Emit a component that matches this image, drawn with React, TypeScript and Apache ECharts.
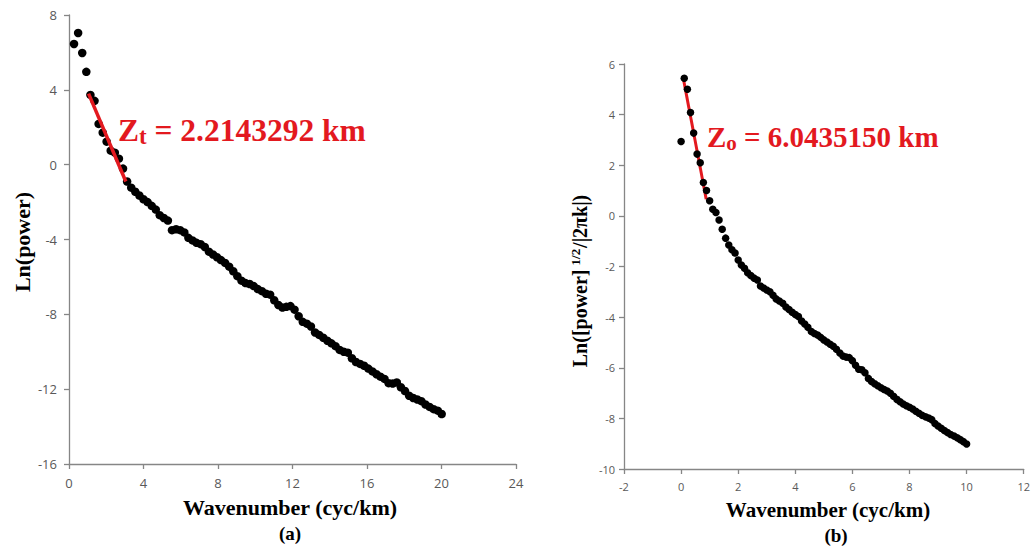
import React, { useEffect, useRef } from "react";
import * as echarts from "echarts";

// Panel (a): Ln(power) vs wavenumber
const xA = [0.27,0.49,0.71,0.93,1.15,1.37,1.59,1.81,2.02,2.24,2.46,2.68,2.90,3.12,3.34,3.56,3.78,4.00,4.22,4.44,4.66,4.87,5.09,5.31,5.53,5.75,5.97,6.19,6.41,6.63,6.85,7.07,7.29,7.51,7.73,7.95,8.16,8.38,8.60,8.82,9.04,9.26,9.48,9.70,9.92,10.14,10.36,10.58,10.80,11.02,11.24,11.46,11.67,11.89,12.11,12.33,12.55,12.77,12.99,13.21,13.43,13.65,13.87,14.09,14.31,14.53,14.75,14.97,15.19,15.41,15.63,15.85,16.07,16.29,16.51,16.72,16.94,17.16,17.38,17.60,17.82,18.04,18.26,18.48,18.70,18.92,19.14,19.36,19.58,19.80,20.01];
const yA = [6.45,7.04,5.97,4.96,3.73,3.41,2.18,1.71,1.23,0.75,0.64,0.32,-0.21,-0.9,-1.23,-1.45,-1.65,-1.85,-2.0,-2.2,-2.4,-2.7,-2.85,-2.99,-3.5,-3.45,-3.5,-3.62,-3.91,-4.05,-4.18,-4.25,-4.4,-4.65,-4.8,-4.95,-5.1,-5.25,-5.45,-5.7,-5.96,-6.2,-6.33,-6.38,-6.49,-6.65,-6.76,-6.9,-6.95,-7.25,-7.5,-7.64,-7.6,-7.56,-7.75,-8.1,-8.4,-8.5,-8.65,-8.97,-9.1,-9.25,-9.41,-9.55,-9.7,-9.9,-10.0,-10.05,-10.35,-10.55,-10.65,-10.75,-10.9,-11.05,-11.2,-11.33,-11.45,-11.68,-11.7,-11.64,-11.9,-12.1,-12.35,-12.47,-12.55,-12.64,-12.82,-12.95,-13.07,-13.15,-13.33];
const fitA = [[1.05, 3.8], [3.05, -0.9]];

// Panel (b): Ln([power]^1/2/|2πk|) vs wavenumber
const xB = [0,0.11,0.22,0.33,0.44,0.56,0.67,0.78,0.89,1.00,1.11,1.22,1.33,1.44,1.56,1.67,1.78,1.89,2.00,2.11,2.22,2.33,2.44,2.56,2.67,2.78,2.89,3.00,3.11,3.22,3.33,3.44,3.56,3.67,3.78,3.89,4.00,4.11,4.22,4.33,4.44,4.56,4.67,4.78,4.89,5.00,5.11,5.22,5.33,5.44,5.56,5.67,5.78,5.89,6.00,6.11,6.22,6.33,6.44,6.56,6.67,6.78,6.89,7.00,7.11,7.22,7.33,7.44,7.56,7.67,7.78,7.89,8.00,8.11,8.22,8.33,8.44,8.56,8.67,8.78,8.89,9.00,9.11,9.22,9.33,9.44,9.56,9.67,9.78,9.89,10.00];
const yB = [2.94,5.44,5.0,4.08,3.27,2.44,2.1,1.32,1.0,0.6,0.26,0.13,-0.16,-0.53,-0.88,-1.15,-1.34,-1.47,-1.74,-1.94,-2.07,-2.25,-2.36,-2.46,-2.53,-2.77,-2.85,-2.93,-3.0,-3.14,-3.28,-3.36,-3.45,-3.6,-3.7,-3.81,-3.9,-3.98,-4.15,-4.27,-4.4,-4.57,-4.65,-4.71,-4.8,-4.9,-4.98,-5.07,-5.15,-5.27,-5.42,-5.54,-5.58,-5.6,-5.72,-5.9,-6.06,-6.08,-6.2,-6.42,-6.54,-6.63,-6.71,-6.79,-6.86,-6.92,-7.01,-7.13,-7.25,-7.34,-7.43,-7.5,-7.56,-7.63,-7.72,-7.8,-7.88,-7.94,-7.99,-8.05,-8.2,-8.3,-8.39,-8.48,-8.56,-8.64,-8.7,-8.77,-8.84,-8.92,-9.01];
const fitB = [[0.07, 5.48], [0.88, 0.66]];

const zipXY = (xs: number[], ys: number[]) => {
  const n = Math.min(xs.length, ys.length);
  const out: number[][] = [];
  for (let i = 0; i < n; i++) out.push([xs[i], ys[i]]);
  return out;
};

const RED = "#e3191f";
const AXIS = "#868686";
const LABEL = "#595959";
const SERIF = "'Liberation Serif', 'Times New Roman', serif";
const SANS = "'Open Sans', 'Noto Sans', sans-serif";

export default function App() {
  const ref = useRef<HTMLDivElement>(null);
  useEffect(() => {
    if (!ref.current) return;
    const chart = echarts.init(ref.current, undefined, { renderer: "svg" });
    const axisCommon = (fs: number, margin: number) => ({
      axisLine: { show: true, onZero: false, lineStyle: { color: AXIS, width: 1.3 } },
      axisTick: { show: true, length: 5, lineStyle: { color: AXIS, width: 1.3 } },
      splitLine: { show: false },
      axisLabel: { color: LABEL, fontSize: fs, fontFamily: SANS, margin },
    });
    chart.setOption({
      animation: false,
      backgroundColor: "#ffffff",
      grid: [
        { left: 69, top: 15, width: 447, height: 449 },
        { left: 624, top: 64, width: 404, height: 405 },
      ],
      xAxis: [
        { type: "value", gridIndex: 0, min: 0, max: 24, interval: 4, ...axisCommon(13, 12) },
        { type: "value", gridIndex: 1, min: -2, max: 12, interval: 2, ...axisCommon(11, 12) },
      ],
      yAxis: [
        { type: "value", gridIndex: 0, min: -16, max: 8, interval: 4, ...axisCommon(13, 12) },
        { type: "value", gridIndex: 1, min: -10, max: 6, interval: 2, ...axisCommon(11, 9) },
      ],
      series: [
        {
          type: "scatter", xAxisIndex: 0, yAxisIndex: 0, data: zipXY(xA, yA),
          symbolSize: 8.5, itemStyle: { color: "#000000", opacity: 1 }, z: 2,
        },
        {
          type: "line", xAxisIndex: 0, yAxisIndex: 0, data: fitA, showSymbol: false,
          lineStyle: { color: RED, width: 3.5 }, z: 3,
        },
        {
          type: "line", xAxisIndex: 1, yAxisIndex: 1, data: fitB, showSymbol: false,
          lineStyle: { color: RED, width: 3 }, z: 2,
        },
        {
          type: "scatter", xAxisIndex: 1, yAxisIndex: 1, data: zipXY(xB, yB),
          symbolSize: 7.5, itemStyle: { color: "#000000", opacity: 1 }, z: 3,
        },
      ],
      graphic: [
        {
          type: "text", x: 22, y: 242, rotation: Math.PI / 2,
          style: { text: "Ln(power)", font: `bold 22px ${SERIF}`, fill: "#000", align: "center", verticalAlign: "middle" },
        },
        {
          type: "text", x: 290, y: 507,
          style: { text: "Wavenumber (cyc/km)", font: `bold 22px ${SERIF}`, fill: "#000", align: "center", verticalAlign: "middle" },
        },
        {
          type: "text", x: 290, y: 533,
          style: { text: "(a)", font: `bold 19px ${SERIF}`, fill: "#000", align: "center", verticalAlign: "middle" },
        },
        {
          type: "text", x: 828, y: 510,
          style: { text: "Wavenumber (cyc/km)", font: `bold 21px ${SERIF}`, fill: "#000", align: "center", verticalAlign: "middle" },
        },
        {
          type: "text", x: 836, y: 535,
          style: { text: "(b)", font: `bold 19px ${SERIF}`, fill: "#000", align: "center", verticalAlign: "middle" },
        },
        {
          type: "text", x: 580, y: 281, rotation: Math.PI / 2,
          style: {
            text: "{m|Ln([power]}{s|1/2}{m|/|2πk|)}",
            align: "center", verticalAlign: "middle",
            rich: {
              m: { fontFamily: SERIF, fontWeight: "bold", fontSize: 20, fill: "#000", color: "#000" },
              s: { fontFamily: SERIF, fontWeight: "bold", fontSize: 13, fill: "#000", color: "#000", padding: [0, 1, 10, 4] },
            },
          },
        },
        {
          type: "text", x: 118, y: 130,
          style: {
            text: "{z|Z}{s|t}{z| = 2.2143292 km}",
            align: "left", verticalAlign: "middle",
            rich: {
              z: { fontFamily: SERIF, fontWeight: "bold", fontSize: 31.5, fill: RED, color: RED },
              s: { fontFamily: SERIF, fontWeight: "bold", fontSize: 23, fill: RED, color: RED, padding: [13, 0, 0, 0] },
            },
          },
        },
        {
          type: "text", x: 707, y: 137,
          style: {
            text: "{z|Z}{s|o}{z| = 6.0435150 km}",
            align: "left", verticalAlign: "middle",
            rich: {
              z: { fontFamily: SERIF, fontWeight: "bold", fontSize: 29, fill: RED, color: RED },
              s: { fontFamily: SERIF, fontWeight: "bold", fontSize: 21, fill: RED, color: RED, padding: [12, 0, 0, 0] },
            },
          },
        },
      ],
    });
    return () => chart.dispose();
  }, []);
  return (
    <div
      ref={ref}
      style={{ position: "fixed", left: 0, top: 0, width: 1033, height: 546, background: "#fff" }}
    />
  );
}
